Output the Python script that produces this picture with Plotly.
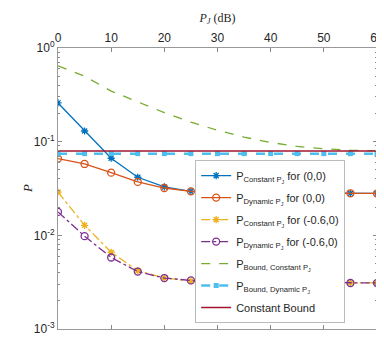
import plotly.graph_objects as go

x_db = [0, 5, 10, 15, 20, 25, 30, 35, 40, 45, 50, 55, 60]
p_const_00 = [0.259, 0.130, 0.0665, 0.0417, 0.0329, 0.0295, 0.0290, 0.0287, 0.0285, 0.0283, 0.0282, 0.0281, 0.0280]
p_dyn_00 = [0.066, 0.0578, 0.0467, 0.0372, 0.0320, 0.0295, 0.0290, 0.0287, 0.0285, 0.0283, 0.0282, 0.0281, 0.0280]
p_const_06 = [0.029, 0.0128, 0.0066, 0.0042, 0.0035, 0.00326, 0.0032, 0.00318, 0.00316, 0.00314, 0.00312, 0.0031, 0.0031]
p_dyn_06 = [0.0178, 0.0098, 0.0058, 0.0041, 0.0035, 0.0033, 0.0032, 0.00318, 0.00316, 0.00314, 0.00312, 0.0031, 0.0031]
p_bound_const = [0.645, 0.50, 0.347, 0.266, 0.204, 0.162, 0.132, 0.112, 0.098, 0.089, 0.084, 0.081, 0.0796]
p_bound_dyn = [0.0745] * 13
const_bound = [0.0796] * 13

x_ticks = [0, 10, 20, 30, 40, 50, 60]
y_ticks = [1, 0.1, 0.01, 0.001]
y_ticktext = ["10<sup>0</sup>", "10<sup>-1</sup>", "10<sup>-2</sup>", "10<sup>-3</sup>"]
y_minor = [m * 10 ** e for e in (-3, -2, -1) for m in range(2, 10)]

names = [
    "P<sub>Constant P<sub>J</sub></sub> for (0,0)",
    "P<sub>Dynamic P<sub>J</sub></sub> for (0,0)",
    "P<sub>Constant P<sub>J</sub></sub> for (-0.6,0)",
    "P<sub>Dynamic P<sub>J</sub></sub> for (-0.6,0)",
    "P<sub>Bound, Constant P<sub>J</sub></sub>",
    "P<sub>Bound, Dynamic P<sub>J</sub></sub>",
    "Constant Bound",
]

fig = go.Figure()
fig.add_trace(go.Scatter(x=x_db, y=p_const_00, name=names[0], legendgroup="g0", mode="lines+markers",
                         line=dict(color="#0072BD", width=1.3),
                         marker=dict(symbol="asterisk-open", size=6, color="#0072BD", line=dict(color="#0072BD", width=1.3))))
fig.add_trace(go.Scatter(x=x_db, y=p_dyn_00, name=names[1], legendgroup="g1", mode="lines+markers",
                         line=dict(color="#D95319", width=1.3),
                         marker=dict(symbol="circle-open", size=7, color="#D95319", line=dict(color="#D95319", width=1.3))))
fig.add_trace(go.Scatter(x=x_db, y=p_const_06, name=names[2], legendgroup="g2", mode="lines+markers",
                         line=dict(color="#EDB120", width=1.3, dash="dashdot"),
                         marker=dict(symbol="asterisk-open", size=6, color="#EDB120", line=dict(color="#EDB120", width=1.3))))
fig.add_trace(go.Scatter(x=x_db, y=p_dyn_06, name=names[3], legendgroup="g3", mode="lines+markers",
                         line=dict(color="#7E2F8E", width=1.3, dash="dashdot"),
                         marker=dict(symbol="circle-open", size=7, color="#7E2F8E", line=dict(color="#7E2F8E", width=1.3))))
fig.add_trace(go.Scatter(x=x_db, y=p_bound_const, name=names[4], legendgroup="g4", mode="lines",
                         line=dict(color="#77AC30", width=1.3, dash="dash")))
fig.add_trace(go.Scatter(x=x_db, y=p_bound_dyn, name=names[5], legendgroup="g5", mode="lines+markers",
                         line=dict(color="#4DBEEE", width=2.5, dash="dash"),
                         marker=dict(symbol="square", size=5, color="#4DBEEE")))
fig.add_trace(go.Scatter(x=x_db, y=const_bound, name=names[6], legendgroup="g6", mode="lines",
                         line=dict(color="#A2142F", width=1.5)))

tickfont = dict(family="Liberation Sans, Arial", size=12, color="#262626")
fig.update_layout(
    width=376, height=331,
    margin=dict(l=50, r=7, t=40, b=10),
    paper_bgcolor="white", plot_bgcolor="white",
    showlegend=True,
    legend=dict(x=0.43, y=0.601, xanchor="left", yanchor="top",
                bgcolor="white", bordercolor="#bbbbbb", borderwidth=1,
                font=dict(family="Liberation Sans, Arial", size=11, color="#262626"),
                tracegroupgap=3, itemwidth=30),
    xaxis=dict(range=[0, 60], side="top", tickvals=x_ticks, automargin=False,
               ticks="inside", ticklen=4, tickcolor="#888", showline=True, linecolor="#999",
               linewidth=1, mirror="ticks", showgrid=False, zeroline=False, tickfont=tickfont,
               title=dict(text="<i>P</i><sub><i>J</i></sub> (dB)", standoff=6,
                          font=dict(family="Liberation Serif, DejaVu Serif", size=12, color="#262626"))),
    yaxis=dict(type="log", range=[-3, 0], tickvals=y_ticks, ticktext=y_ticktext, automargin=False,
               ticks="inside", ticklen=4, tickcolor="#888", showline=True, linecolor="#999",
               linewidth=1, mirror="ticks", showgrid=False, zeroline=False, tickfont=tickfont,
               minor=dict(tickvals=y_minor, ticks="inside", ticklen=2, tickcolor="#888", showgrid=False)),
    annotations=[dict(text="<i>P</i>", x=-40 / 319, xref="paper", y=0.5, yref="paper", showarrow=False,
                      textangle=-90, font=dict(family="Liberation Serif, DejaVu Serif", size=13, color="#262626"))],
)

fig.write_html("out.html")
